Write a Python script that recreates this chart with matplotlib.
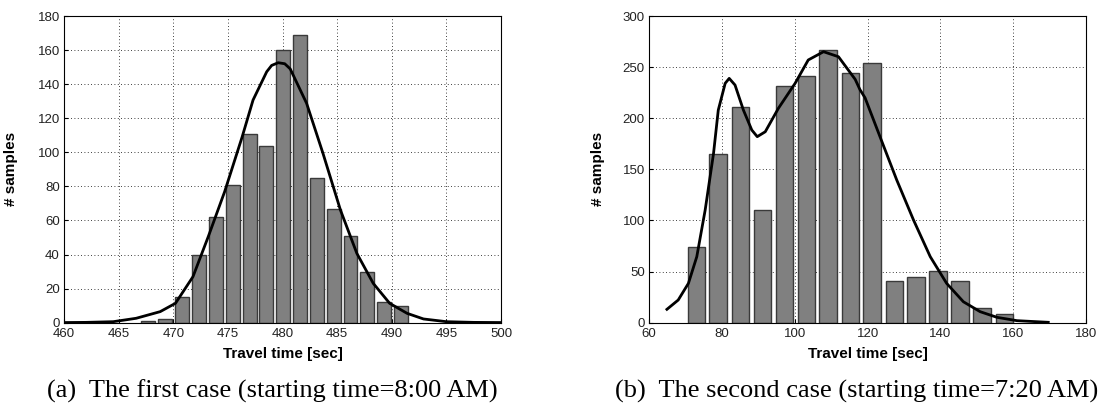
import matplotlib
matplotlib.use('Agg')
from matplotlib import pyplot as plt

# (a) first case, 8:00 AM
centers_a = [467.7, 469.25, 470.8, 472.35, 473.9, 475.45, 477.0, 478.5,
             480.05, 481.6, 483.15, 484.7, 486.2, 487.75, 489.3, 490.85]
counts_a = [1, 2, 15, 40, 62, 81, 111, 104, 160, 169, 85, 67, 51, 30, 12, 10]
fit_x_a = [460, 462, 464.5, 466.6, 468.8, 470.2, 471.8, 473.2, 474.7, 476.3,
           477.3, 478.55, 479.0, 479.6, 480.2, 480.7, 482.2, 483.7, 485.3,
           486.8, 488.3, 489.8, 491.4, 492.9, 495.0, 497.5, 500]
fit_y_a = [0.1, 0.2, 0.6, 2.6, 6.5, 11.4, 27, 50.5, 76.9, 109,
           130.7, 147.3, 151, 152.6, 152, 149.0, 128.8, 99.4, 66.1,
           40.7, 23.1, 11.4, 5.5, 2.2, 0.6, 0.2, 0.1]

# (b) second case, 7:20 AM
centers_b = [73.0, 79.0, 85.05, 91.1, 97.15, 103.2, 109.2, 115.25, 121.25,
             127.35, 133.35, 139.4, 145.45, 151.45, 157.55]
counts_b = [74, 165, 211, 110, 232, 241, 267, 244, 254, 41, 45, 51, 41, 14, 9]
fit_x_b = [64.9, 68.0, 70.8, 73.1, 75.4, 77.7, 79.0, 80.9, 82.0, 83.6, 85.9,
           88.2, 89.7, 91.9, 95.5, 100.1, 103.7, 107.9, 112.0, 116.6, 117.9,
           119.3, 123.4, 128.0, 132.6, 137.2, 141.7, 146.3, 150.9, 155.5,
           161.0, 169.6]
fit_y_b = [13.1, 22.2, 38.5, 64.6, 110.2, 165.7, 208, 234.2, 239, 232.5, 208,
           188.5, 182, 186.8, 209.7, 234.2, 257, 265.1, 260.2, 238, 228,
           220, 182, 139.6, 100.5, 64.6, 38.5, 20.5, 10.8, 5.3,
           2.0, 0.4]

captions = ['(a)  The first case (starting time=8:00 AM)',
            '(b)  The second case (starting time=7:20 AM)']

plt.rcParams['font.family'] = ['Liberation Sans', 'DejaVu Sans']

fig = plt.figure(figsize=(11.02, 4.11), dpi=100)
ax1 = fig.add_axes([0.0581, 0.2148, 0.3966, 0.7462])
ax2 = fig.add_axes([0.589, 0.2148, 0.3966, 0.7462])

panels = [
    (ax1, centers_a, counts_a, fit_x_a, fit_y_a, 1.545, (460, 500), range(460, 501, 5), (0, 180), range(0, 181, 20)),
    (ax2, centers_b, counts_b, fit_x_b, fit_y_b, 6.04, (60, 180), range(60, 181, 20), (0, 300), range(0, 301, 50)),
]

for ax, cx, cy, fx, fy, step, xl, xt, yl, yt in panels:
    ax.bar(cx, cy, width=0.8 * step, color='#808080', edgecolor='#3a3a3a', linewidth=1.0, zorder=2)
    ax.plot(fx, fy, color='black', linewidth=2.0, zorder=3)
    ax.set_xlim(*xl)
    ax.set_ylim(*yl)
    ax.set_xticks(list(xt))
    ax.set_yticks(list(yt))
    ax.set_axisbelow(True)
    ax.grid(True, color='black', linestyle=(0, (1, 3)), linewidth=0.6)
    ax.tick_params(direction='in', length=3, labelsize=9.5, labelcolor='#222222', pad=4)
    ax.tick_params(axis='y', pad=3)
    for sp in ax.spines.values():
        sp.set_linewidth(0.8)
    ax.set_xlabel('Travel time [sec]', fontsize=11, fontweight='bold')
    ax.set_ylabel('# samples', fontsize=11, fontweight='bold')
    ax.xaxis.set_label_coords(0.5, -0.08)

ax1.yaxis.set_label_coords(-0.105, 0.5)
ax2.yaxis.set_label_coords(-0.101, 0.5)

fig.text(0.247, 0.048, captions[0], ha='center', va='center', fontsize=19, family='Liberation Serif')
fig.text(0.777, 0.048, captions[1], ha='center', va='center', fontsize=19, family='Liberation Serif')

plt.savefig('out.png', dpi=100)
